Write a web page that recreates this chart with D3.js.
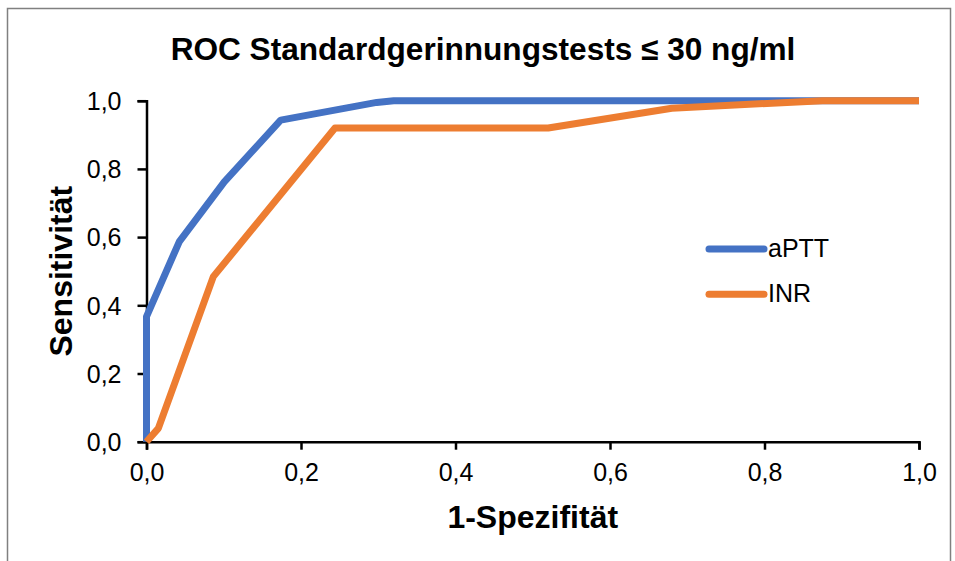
<!DOCTYPE html>
<html>
<head>
<meta charset="utf-8">
<script src="https://cdn.jsdelivr.net/npm/d3@7"></script>
<style>
  body { margin: 0; background: #fff; }
  svg { display: block; font-family: "Liberation Sans", Arial, sans-serif; }
</style>
</head>
<body>
<svg id="chart" width="955" height="561"></svg>
<script>
// Werte
const titel = "ROC Standardgerinnungstests \u2264 30 ng/ml";
const serienNamen = ["aPTT", "INR"];
const farben = ["#4472C4", "#ED7D31"];
const aPTT = [
  [0, 0], [0, 0.367], [0.0425, 0.587], [0.1007, 0.762], [0.1737, 0.943],
  [0.298, 0.995], [0.32, 1.0], [1, 1.0]
];
const INR = [
  [0, 0], [0.0153, 0.039], [0.0865, 0.484], [0.244, 0.92], [0.52, 0.92],
  [0.68, 0.978], [0.875, 1.0], [1, 1.0]
];
const ticks = [0, 0.2, 0.4, 0.6, 0.8, 1.0];

const svg = d3.select("#chart");
const x = d3.scaleLinear().domain([0, 1]).range([146.5, 919]);
const y = d3.scaleLinear().domain([0, 1]).range([441.7, 100.7]);
const fmt = (d) => d3.format(".1f")(d).replace(".", ",");

// Rahmen
svg.append("rect")
  .attr("x", 7.5).attr("y", 8.5)
  .attr("width", 943).attr("height", 580)
  .attr("fill", "none")
  .attr("stroke", "#808080")
  .attr("stroke-width", 1.5);

svg.append("text")
  .attr("x", 483).attr("y", 60)
  .attr("text-anchor", "middle")
  .style("font-size", "31.6px").style("font-weight", "bold")
  .text(titel);

// Achsen
const xAchse = svg.append("g")
  .attr("transform", `translate(0,${y(0)})`)
  .call(d3.axisBottom(x).tickValues(ticks).tickFormat(fmt).tickSize(8).tickSizeOuter(8).tickPadding(14));
const yAchse = svg.append("g")
  .attr("transform", `translate(${x(0)},0)`)
  .call(d3.axisLeft(y).tickValues(ticks).tickFormat(fmt).tickSize(9).tickSizeOuter(9).tickPadding(16));

[xAchse, yAchse].forEach((a) => {
  a.select(".domain").attr("stroke", "#000").attr("stroke-width", 2.5);
  a.selectAll(".tick line").attr("stroke", "#000").attr("stroke-width", 2.5);
  a.selectAll(".tick text")
    .attr("fill", "#000")
    .style("font-size", "25px")
    .style("font-family", "\"Liberation Sans\", Arial, sans-serif");
});
yAchse.selectAll(".tick text").attr("dy", "0.35em");

// Linien ueber den Achsen
const linie = d3.line().x((d) => x(d[0])).y((d) => y(d[1]));
[aPTT, INR].forEach((s, i) => {
  svg.append("path")
    .attr("d", linie(s))
    .attr("fill", "none")
    .attr("stroke", farben[i])
    .attr("stroke-width", 7)
    .attr("stroke-linejoin", "round");
});

svg.append("text")
  .attr("x", (x(0) + x(1)) / 2).attr("y", 528)
  .attr("text-anchor", "middle")
  .style("font-size", "32px").style("font-weight", "bold")
  .text("1-Spezifit\u00e4t");

svg.append("text")
  .attr("transform", `translate(72,${(y(0) + y(1)) / 2}) rotate(-90)`)
  .attr("text-anchor", "middle")
  .style("font-size", "32px").style("font-weight", "bold")
  .text("Sensitivit\u00e4t");

// Legende
const legende = svg.append("g");
serienNamen.forEach((n, i) => {
  const ly = 249 + i * 45.3;
  legende.append("line")
    .attr("x1", 709).attr("x2", 764)
    .attr("y1", ly).attr("y2", ly)
    .attr("stroke", farben[i])
    .attr("stroke-width", 7)
    .attr("stroke-linecap", "round");
  legende.append("text")
    .attr("x", 768).attr("y", ly + 8)
    .style("font-size", "25px")
    .text(n);
});
</script>
</body>
</html>
